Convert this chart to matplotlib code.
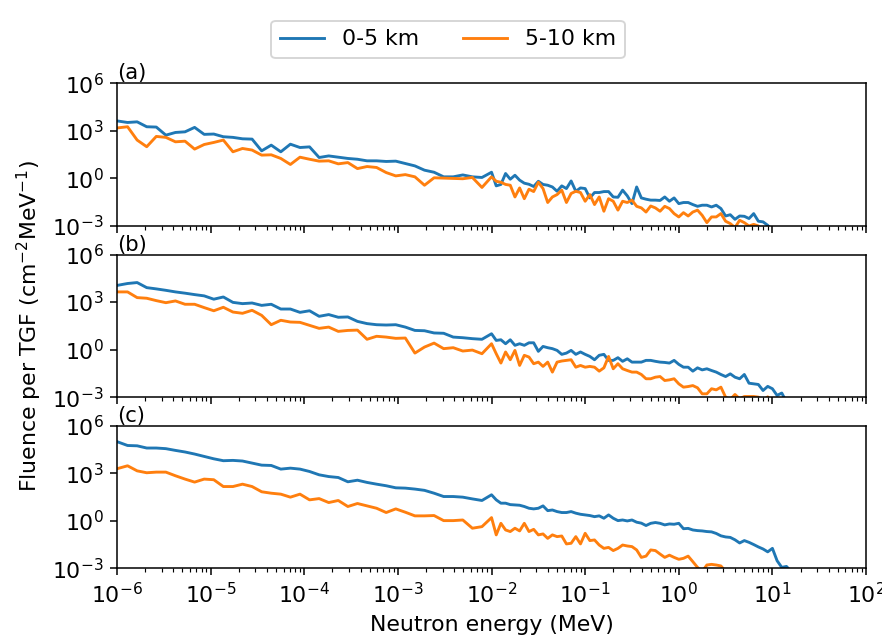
import numpy as np
import matplotlib
matplotlib.use("Agg")
import matplotlib.pyplot as plt
from matplotlib.ticker import NullLocator

plt.rcParams["font.size"] = 11.5

# ---- energy grid (MeV): log-uniform bins, coarse below 1e-2 MeV, finer above ----
log_e_low = np.linspace(-5.99, -2.0, 40)
log_e_high = -2.0 + 0.05 * np.arange(1, 65)
energy = 10.0 ** np.concatenate([log_e_low, log_e_high])

labels = ["0-5 km", "5-10 km"]
panel_tags = ["(a)", "(b)", "(c)"]

# ---- log10 fluence per TGF (cm^-2 MeV^-1) ----
# panel (a)
a_blue = [3.62, 3.53, 3.57, 3.26, 3.24, 2.73, 2.90, 2.94, 3.22, 2.78, 2.80, 2.63, 2.59, 2.50, 2.48,
          1.74, 2.10, 1.68, 2.16, 1.95, 1.99, 1.32, 1.42, 1.34, 1.26, 1.21, 1.11, 1.11, 1.07, 1.09,
          0.94, 0.79, 0.52, 0.39, 0.10, 0.10, 0.22, 0.10, 0.06, 0.39,
          -0.47, -0.38, 0.31, -0.05, 0.20, -0.11, -0.30, -0.37, -0.51, -0.18, -0.38, -0.43, -0.54,
          -0.81, -0.47, -0.64, -0.16, -0.81, -0.60, -0.64, -1.23, -0.89, -0.89, -0.83, -0.83, -1.17,
          -1.19, -0.74, -1.10, -1.59, -0.54, -1.23, -1.31, -1.37, -1.37, -1.39, -1.17, -1.44, -1.23,
          -1.59, -1.52, -1.52, -1.65, -1.76, -1.69, -1.69, -1.80, -1.69, -1.90, -2.37, -2.29, -2.58,
          -2.37, -2.39, -2.53, -2.22, -2.70, -2.74, -2.96, -3.3]
a_orange = [3.19, 3.26, 2.42, 2.00, 2.65, 2.59, 2.31, 2.35, 1.85, 2.14, 2.27, 2.42, 1.68, 1.89, 1.79,
            1.47, 1.49, 1.26, 0.88, 1.34, 1.21, 1.09, 1.11, 0.92, 1.00, 0.62, 0.75, 0.69, 0.37, 0.16,
            0.24, 0.10, -0.43, 0.04, 0.02, 0.00, -0.02, 0.06, -0.57, 0.10,
            -0.18, -0.24, -0.38, -0.43, -1.17, -0.60, -1.28, -0.68, -0.83, -0.24, -0.64, -1.52, -1.17,
            -1.02, -0.74, -1.52, -0.95, -0.81, -0.89, -1.44, -1.02, -1.65, -1.17, -2.07, -1.28, -1.44,
            -2.00, -1.44, -1.52, -1.37, -1.76, -1.86, -2.12, -1.74, -1.86, -2.07, -1.76, -1.90, -2.22,
            -2.43, -2.16, -2.37, -2.12, -2.00, -2.33, -2.79, -2.43, -2.43, -2.22, -2.70, -2.85, -3.1,
            -2.64, -2.79, -3.0, -2.9, -3.0, -3.3]
# panel (b)
b_blue = [4.06, 4.17, 4.23, 3.91, 3.83, 3.74, 3.64, 3.56, 3.47, 3.39, 3.18, 3.32, 2.98, 2.90, 2.94,
          2.79, 2.86, 2.56, 2.56, 2.35, 2.45, 2.10, 2.21, 2.04, 2.06, 1.78, 1.64, 1.57, 1.55, 1.57,
          1.42, 1.21, 1.19, 1.05, 1.03, 0.79, 0.75, 0.69, 0.65, 1.00,
          0.58, 0.62, 0.37, 0.62, 0.27, 0.37, 0.27, 0.43, 0.43, -0.11, 0.20, 0.12, 0.06, -0.05, -0.30,
          -0.22, -0.05, -0.30, -0.15, -0.30, -0.43, -0.64, -0.36, -0.30, -0.68, -0.68, -0.51, -0.74,
          -0.58, -0.79, -0.79, -0.79, -0.68, -0.68, -0.74, -0.79, -0.81, -0.85, -0.68, -0.93, -1.11,
          -1.11, -1.36, -1.15, -1.28, -1.21, -1.32, -1.42, -1.57, -1.70, -1.53, -1.74, -1.84, -1.57,
          -2.12, -2.16, -2.20, -2.58, -2.32, -2.47, -2.89, -2.74, -3.3]
b_orange = [3.64, 3.64, 3.28, 3.24, 3.09, 2.96, 3.07, 2.86, 2.86, 2.65, 2.45, 2.67, 2.37, 2.29, 2.48,
            2.16, 1.57, 1.85, 1.74, 1.72, 1.53, 1.34, 1.42, 1.15, 1.21, 1.23, 0.65, 0.84, 0.79, 0.71,
            0.73, -0.22, 0.16, 0.41, 0.06, 0.12, -0.09, -0.03, -0.26, 0.37,
            -0.26, -0.85, -0.15, -0.64, -0.05, -1.00, -0.36, -0.47, -0.89, -0.79, -1.06, -0.79, -1.42,
            -0.79, -0.72, -0.68, -0.64, -1.11, -1.00, -1.11, -1.06, -1.11, -1.36, -1.15, -0.43, -1.21,
            -0.89, -1.21, -1.32, -1.42, -1.42, -1.57, -1.84, -1.84, -1.74, -1.70, -1.95, -1.91, -1.84,
            -2.16, -2.37, -2.33, -2.27, -2.41, -2.79, -2.79, -2.47, -2.54, -2.37, -3.0, -3.15, -2.83,
            -3.1, -2.96, -2.96, -2.96, -3.0, -3.2, -2.98, -3.3]
# panel (c)
c_blue = [4.97, 4.75, 4.73, 4.59, 4.59, 4.55, 4.44, 4.34, 4.21, 4.06, 3.91, 3.79, 3.81, 3.77, 3.64,
          3.51, 3.49, 3.26, 3.32, 3.26, 3.11, 2.90, 2.79, 2.73, 2.46, 2.56, 2.42, 2.31, 2.21, 2.08,
          2.06, 2.00, 1.92, 1.74, 1.53, 1.53, 1.49, 1.38, 1.28, 1.64,
          1.32, 1.11, 1.11, 1.02, 1.00, 0.98, 0.90, 0.79, 0.75, 0.79, 0.94, 0.64, 0.68, 0.58, 0.52,
          0.52, 0.58, 0.48, 0.41, 0.37, 0.33, 0.26, 0.31, 0.16, 0.37, 0.16, 0.01, 0.05, -0.01, 0.05,
          -0.09, -0.15, -0.30, -0.16, -0.11, -0.16, -0.26, -0.20, -0.22, -0.16, -0.50, -0.48, -0.58,
          -0.62, -0.64, -0.68, -0.70, -0.80, -0.95, -1.02, -1.05, -1.20, -1.40, -1.25, -1.36, -1.50,
          -1.65, -1.78, -1.96, -1.74, -2.52, -2.94, -2.88, -3.2]
c_orange = [3.30, 3.47, 3.15, 3.03, 3.07, 3.07, 2.84, 2.63, 2.44, 2.63, 2.59, 2.16, 2.16, 2.31, 2.16,
            1.83, 1.74, 1.68, 1.49, 1.68, 1.32, 1.40, 1.15, 1.28, 0.90, 1.09, 0.94, 0.79, 0.52, 0.75,
            0.54, 0.31, 0.31, 0.33, 0.01, 0.01, 0.05, -0.47, -0.37, 0.20,
            -0.89, -0.16, -0.58, -0.68, -0.47, -0.64, -0.16, -0.68, -0.54, -0.89, -0.83, -1.11, -0.89,
            -1.00, -0.96, -1.46, -1.42, -1.00, -1.46, -0.79, -1.25, -1.21, -1.53, -1.74, -1.68, -1.88,
            -1.74, -1.53, -1.59, -1.63, -1.84, -2.31, -2.23, -1.84, -1.88, -2.10, -2.31, -2.17, -2.31,
            -2.43, -2.37, -2.23, -2.58, -2.94, -3.2, -2.79, -2.75, -2.79, -2.85, -3.2]

panels = [(a_blue, a_orange), (b_blue, b_orange), (c_blue, c_orange)]

dpi = 138
fig, axes = plt.subplots(3, 1, sharex=True, figsize=(882 / dpi, 639 / dpi), dpi=dpi)
fig.subplots_adjust(left=0.1327, right=0.9819, bottom=0.1106, top=0.8696, hspace=0.2)

handles = []
for ax, tag, (blue, orange) in zip(axes, panel_tags, panels):
    hb, = ax.plot(energy[:len(blue)], 10.0 ** np.array(blue), color="C0", label=labels[0])
    ho, = ax.plot(energy[:len(orange)], 10.0 ** np.array(orange), color="C1", label=labels[1])
    handles = [hb, ho]
    ax.set_xscale("log")
    ax.set_yscale("log")
    ax.set_xlim(1e-6, 1e2)
    ax.set_ylim(1e-3, 1e6)
    ax.set_yticks([1e-3, 1e0, 1e3, 1e6])
    ax.yaxis.set_minor_locator(NullLocator())
    ax.text(0.0, 1.0, tag, transform=ax.transAxes, ha="left", va="bottom", fontsize=11)

axes[1].set_ylabel("Fluence per TGF (cm$^{-2}$MeV$^{-1}$)")
axes[2].set_xlabel("Neutron energy (MeV)")
axes[2].set_xticks([10.0 ** p for p in range(-6, 3)])

fig.legend(handles, labels, loc="upper center", bbox_to_anchor=(0.508, 0.985),
           ncol=2, fontsize=11.5)

fig.savefig("out.png", dpi=dpi)
